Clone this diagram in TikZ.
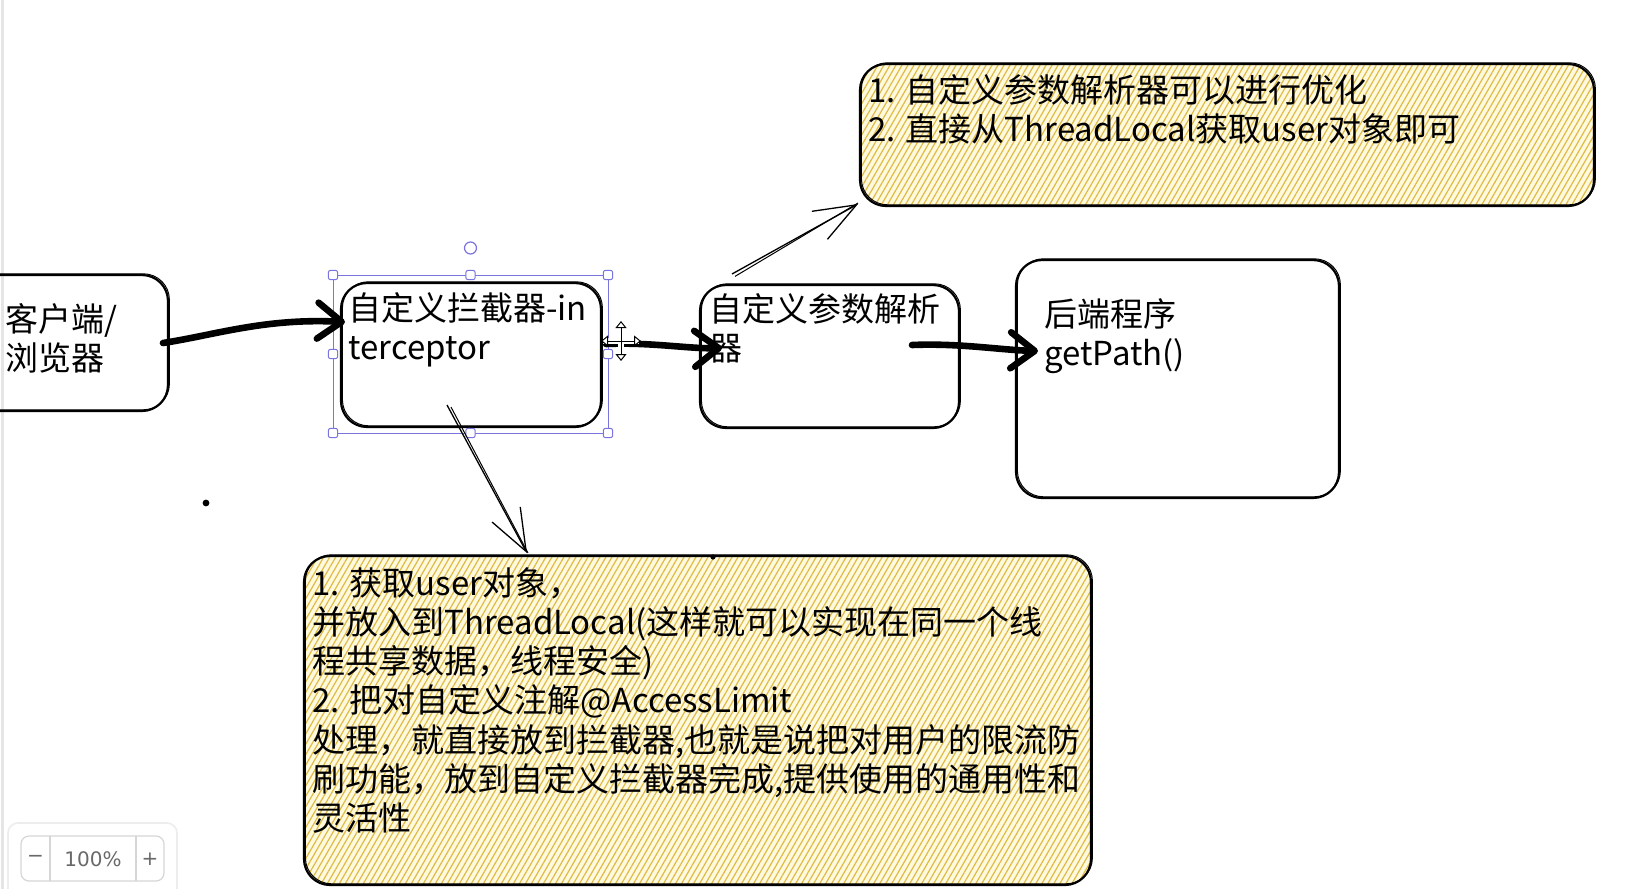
\documentclass[tikz,border=0pt]{standalone}
\usepackage{fontspec}
\setmainfont{Noto Sans CJK SC}
\newfontfamily\uifont{DejaVu Sans}
\usetikzlibrary{arrows.meta,patterns.meta}
\definecolor{hatch}{RGB}{222,186,70}
\definecolor{cream}{RGB}{255,249,222}
\definecolor{sel}{RGB}{122,116,222}
\definecolor{uigray}{RGB}{105,105,105}
\begin{document}
\begin{tikzpicture}[x=0.5pt,y=-0.5pt,
  box/.style={draw, line width=1.1pt, rounded corners=13pt, inner sep=0pt,
    postaction={draw, line width=0.5pt, transform canvas={shift={(0.7pt,0.6pt)}}}},
  note/.style={box, preaction={fill=cream},
    pattern={Lines[angle=60,distance=2.6pt,line width=0.6pt]}, pattern color=hatch},
  txt/.style={anchor=north west, inner sep=0pt, align=left, font=\fontsize{16.5}{19.6}\selectfont},
  handle/.style={draw=sel, fill=white, line width=0.5pt, rounded corners=1pt, minimum size=4.6pt, inner sep=0pt},
  thick arrow/.style={line width=3.3pt, line cap=round, -{Straight Barb[length=12pt,width=18pt,line cap=round,line join=round]}},
  thin arrow/.style={line width=0.65pt, -{Straight Barb[length=21pt,width=16pt]}},
  ui/.style={inner sep=0pt, text=uigray, font=\uifont\fontsize{10}{12}\selectfont}]
\useasboundingbox (0,0) rectangle (1629,889);
\fill[white] (0,0) rectangle (1629,889);
\clip (0,0) rectangle (1629,889);
\draw[black!10, line width=1.5pt] (2,0) -- (2,889);

% notes (yellow)
\node[note, minimum width=367pt, minimum height=71pt] (top) at (1227,135) {};
\node[note, minimum width=393.5pt, minimum height=164.5pt] (bottom) at (697.5,720.5) {};

% boxes
\node[box, minimum width=99pt, minimum height=68pt] (client) at (69,343) {};
\node[box, minimum width=130pt, minimum height=72pt] (inter) at (471,355) {};
\node[box, minimum width=129.5pt, minimum height=71.5pt] (param) at (829.5,356.5) {};
\node[box, minimum width=161.5pt, minimum height=119pt] (backend) at (1177.5,379) {};

% texts
\node[txt] (tclient) at (5,303) {客户端/\\浏览器};
\node[txt] (tinter) at (348,292) {自定义拦截器-in\\terceptor};
\node[txt] (tparam) at (709,293) {自定义参数解析\\器};
\node[txt] (tback) at (1044,298) {后端程序\\getPath()};
\node[txt] (ttop) at (868,74) {1. 自定义参数解析器可以进行优化\\2. 直接从ThreadLocal获取user对象即可};
\node[txt] (tbottom) at (312,567) {1. 获取user对象，\\并放入到ThreadLocal(这样就可以实现在同一个线\\程共享数据，线程安全)\\2. 把对自定义注解@AccessLimit\\处理，就直接放到拦截器,也就是说把对用户的限流防\\刷功能，放到自定义拦截器完成,提供使用的通用性和\\灵活性};

% selection frame
\draw[sel, line width=0.5pt] (333,275) rectangle (608,433);
\node[handle] (h1) at (333,275) {};
\node[handle] (h2) at (470.5,275) {};
\node[handle] (h3) at (608,275) {};
\node[handle] (h4) at (333,354) {};
\node[handle] (h5) at (608,354) {};
\node[handle] (h6) at (333,433) {};
\node[handle] (h7) at (470.5,433) {};
\node[handle] (h8) at (608,433) {};
\node[circle, draw=sel, fill=white, line width=0.6pt, minimum size=6pt, inner sep=0pt] (rot) at (470.5,248) {};

% connector end points
\coordinate (a1s) at (163,343);
\coordinate (a1e) at (345,322);
\coordinate (a2s) at (606,344);
\coordinate (a2e) at (722,348);
\coordinate (a3s) at (912,345);
\coordinate (a3e) at (1038,351);
\coordinate (a4s) at (447,405);
\coordinate (a4e) at (527,553);
\coordinate (a5s) at (732,274);
\coordinate (a5e) at (858,204);

% thick arrows
\draw[thick arrow] (a1s) .. controls (215,335) and (265,318) .. (a1e);
\draw[thick arrow] (a2s) .. controls (650,342) and (690,349) .. (a2e);
\draw[thick arrow] (a3s) .. controls (960,343) and (1000,350) .. (a3e);

% thin arrows (double sketch stroke)
\draw[thin arrow] (a4s) -- (a4e);
\draw[line width=0.5pt] ([xshift=2pt,yshift=-1pt]a4s) -- ([xshift=0.5pt]a4e);
\draw[thin arrow] (a5s) -- (a5e);
\draw[line width=0.5pt] ([xshift=1.5pt,yshift=-1.2pt]a5s) -- ([yshift=0.5pt]a5e);

% move cursor
\coordinate (cur) at (621,341);
\draw[white, line width=3pt] ([xshift=-9pt]cur) -- ([xshift=9pt]cur) ([yshift=-9pt]cur) -- ([yshift=9pt]cur);
\draw[line width=0.5pt, {Triangle[open,fill=white,length=3.5pt,width=5.5pt]}-{Triangle[open,fill=white,length=3.5pt,width=5.5pt]}] ([xshift=-10pt]cur) -- ([xshift=10pt]cur);
\draw[line width=0.5pt, {Triangle[open,fill=white,length=3.5pt,width=5.5pt]}-{Triangle[open,fill=white,length=3.5pt,width=5.5pt]}] ([yshift=-10pt]cur) -- ([yshift=10pt]cur);

% dots
\fill (206,503) circle (1.7pt);
\fill (713,557) circle (1.3pt);

% zoom control
\draw[black!7, fill=white, rounded corners=5pt, line width=0.8pt] (8,823) rectangle (177,905);
\draw[black!16, rounded corners=4pt, line width=0.6pt] (21,836) rectangle (164,881);
\draw[black!16, line width=0.6pt] (50,836) -- (50,881) (136,836) -- (136,881);
\node[ui] (zminus) at (35.5,859) {−};
\node[ui] (zval) at (93,859) {100\%};
\node[ui] (zplus) at (150,859) {+};
\end{tikzpicture}
\end{document}
